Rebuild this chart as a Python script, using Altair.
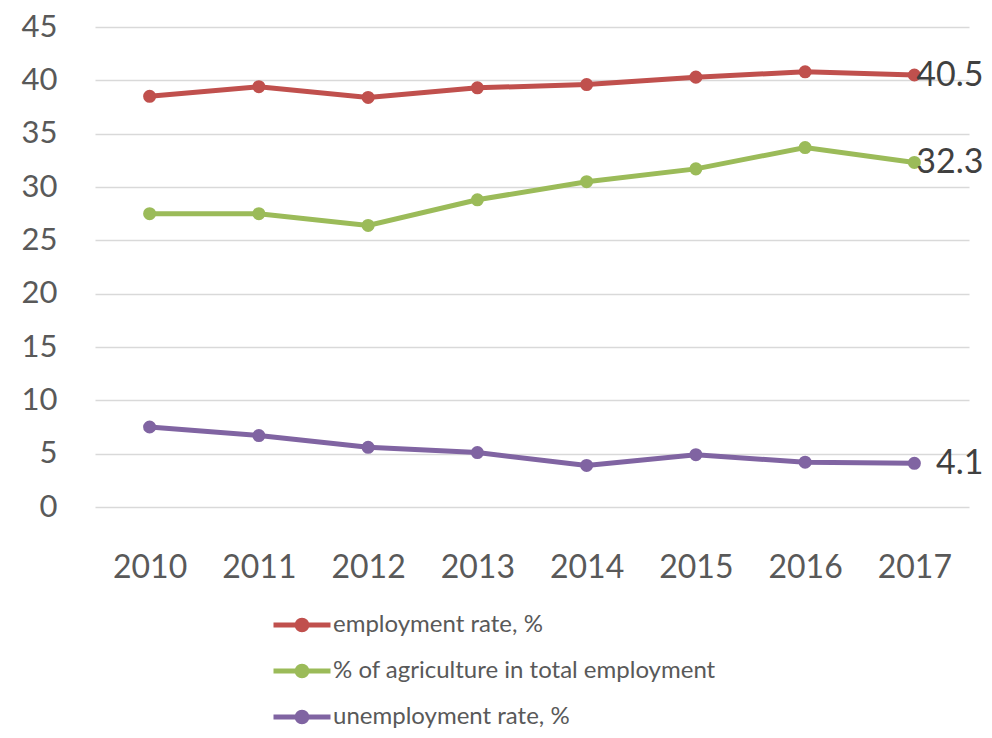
import altair as alt
import pandas as pd

years = ["2010", "2011", "2012", "2013", "2014", "2015", "2016", "2017"]
employment = [38.5, 39.4, 38.4, 39.3, 39.6, 40.3, 40.8, 40.5]
agriculture = [27.5, 27.5, 26.4, 28.8, 30.5, 31.7, 33.7, 32.3]
unemployment = [7.5, 6.7, 5.6, 5.1, 3.9, 4.9, 4.2, 4.1]

series_names = [
    "employment rate, %",
    "% of agriculture in total employment",
    "unemployment rate, %",
]
series_values = [employment, agriculture, unemployment]
colors = ["#C0504D", "#9BBB59", "#8064A2"]

rows = []
for name, vals in zip(series_names, series_values):
    for y, v in zip(years, vals):
        rows.append({"year": y, "value": v, "series": name})
df = pd.DataFrame(rows)

FONT = "Lato"
legend_path = (
    "M-1,0L1,0"
    "M0.17,0A0.17,0.17,0,1,1,-0.17,0A0.17,0.17,0,1,1,0.17,0"
    "M0.08,0A0.08,0.08,0,1,1,-0.08,0A0.08,0.08,0,1,1,0.08,0"
)

x_enc = alt.X(
    "year:O",
    sort=years,
    scale=alt.Scale(type="point", padding=0.5),
    axis=alt.Axis(
        title=None, labelAngle=0, domain=False, ticks=False, grid=False,
        labelFontSize=32, labelFont=FONT, labelColor="#595959",
        labelPadding=45, labelBaseline="top",
    ),
)
y_enc = alt.Y(
    "value:Q",
    scale=alt.Scale(domain=[0, 45], nice=False),
    axis=alt.Axis(
        title=None, values=list(range(0, 50, 5)), domain=False, ticks=False,
        grid=True, gridColor="#D9D9D9", gridWidth=1.5,
        labelFontSize=31, labelFont=FONT, labelColor="#595959",
        labelPadding=38, labelBaseline="middle",
    ),
)
color_enc = alt.Color(
    "series:N",
    scale=alt.Scale(domain=series_names, range=colors),
    legend=alt.Legend(
        title=None, orient="none", legendX=176, legendY=575,
        symbolType=legend_path, symbolSize=3249, symbolStrokeWidth=5,
        labelFontSize=24, labelFont=FONT, labelColor="#595959",
        labelOffset=0, clipHeight=46, rowPadding=0, labelLimit=600,
    ),
)

lines = alt.Chart(df).mark_line(
    strokeWidth=5,
    point=alt.OverlayMarkDef(filled=True, size=170, opacity=1),
).encode(x=x_enc, y=y_enc, color=color_enc)

labels = alt.Chart(df).transform_filter(
    alt.datum.year == "2017"
).mark_text(
    align="right", baseline="middle", dx=69, dy=1, fontSize=34, font=FONT,
    color="#404040",
).encode(
    x=alt.X("year:O", sort=years, scale=alt.Scale(type="point", padding=0.5)),
    y=alt.Y("value:Q"),
    text=alt.Text("value:Q", format=".1f"),
)

chart = alt.layer(lines, labels).properties(
    width=874,
    height=480,
    autosize=alt.AutoSizeParams(type="none"),
    padding={"left": 87, "top": 19, "right": 15, "bottom": 223},
).configure_view(stroke=None)

chart.save("out.html", embed_options={"renderer": "svg", "actions": False})
